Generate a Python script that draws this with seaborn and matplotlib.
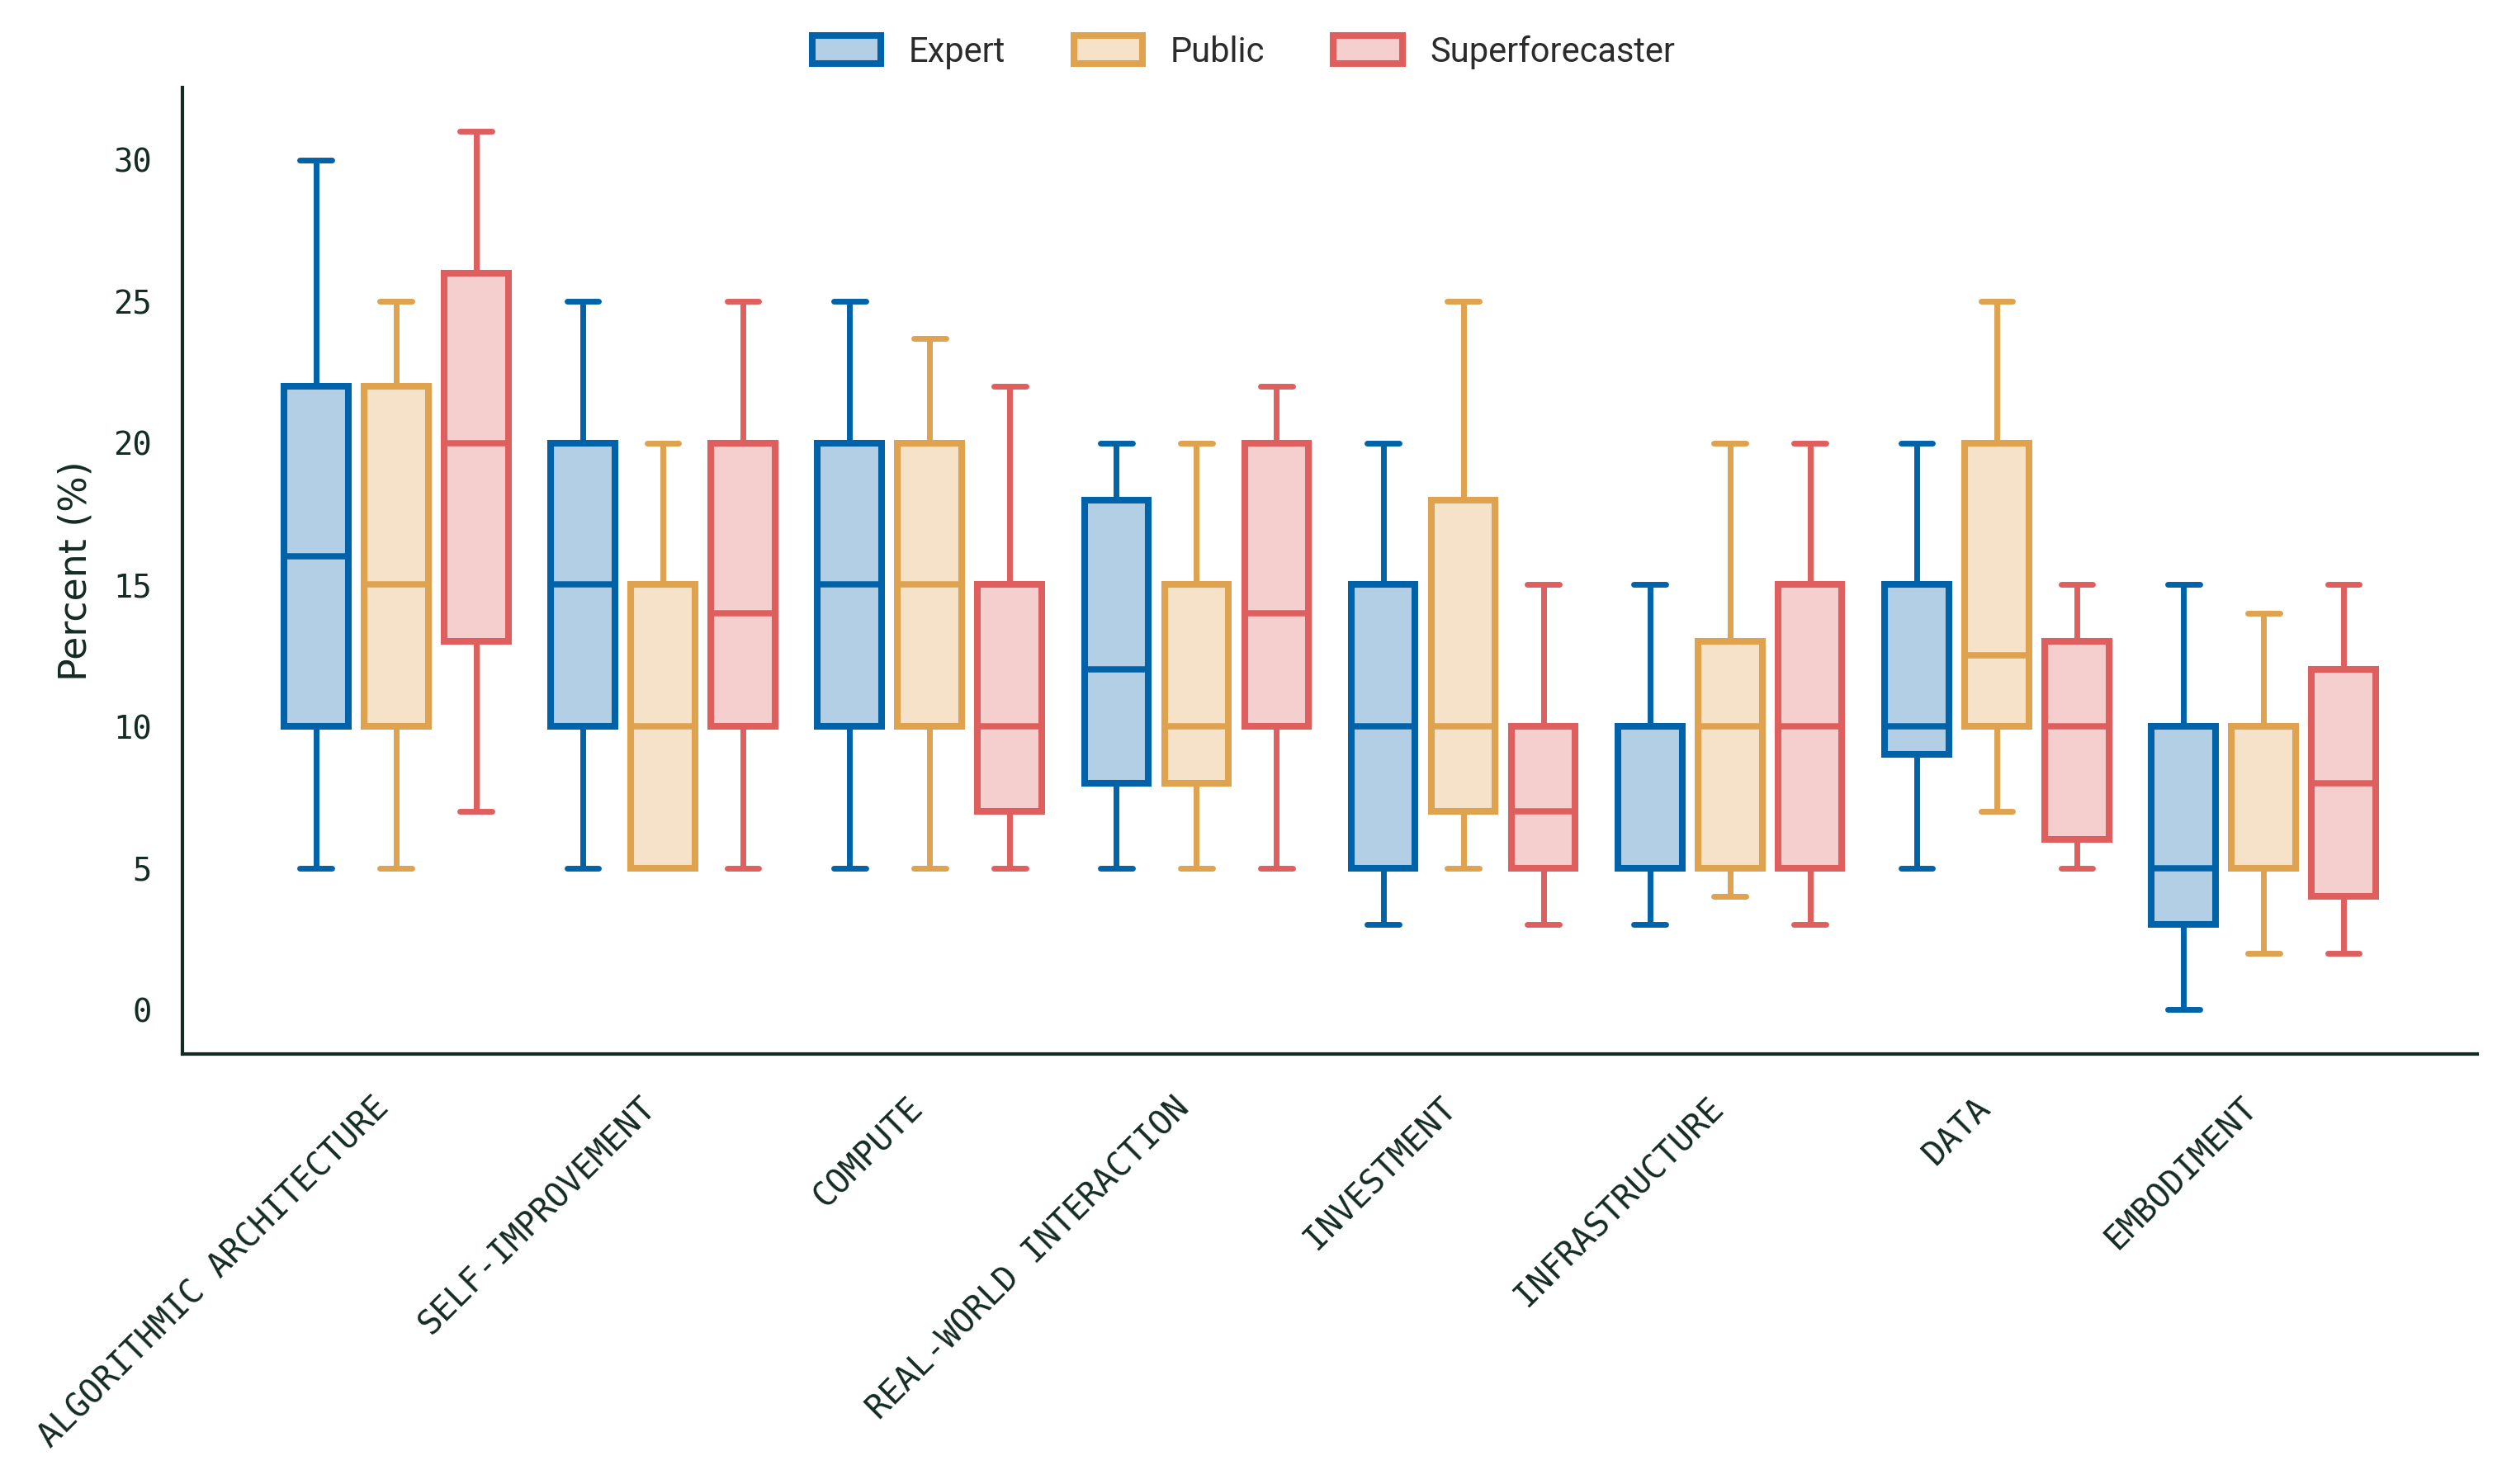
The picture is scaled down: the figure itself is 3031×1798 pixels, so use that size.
import numpy as np
import pandas as pd
import matplotlib
matplotlib.use('Agg')
import matplotlib.pyplot as plt
from matplotlib.patches import Patch
from matplotlib.colors import to_rgb
import seaborn as sns

sns.set_style('white')

factors = ['ALGORITHMIC ARCHITECTURE', 'SELF-IMPROVEMENT', 'COMPUTE',
           'REAL-WORLD INTERACTION', 'INVESTMENT', 'INFRASTRUCTURE',
           'DATA', 'EMBODIMENT']
groups = ['Expert', 'Public', 'Superforecaster']
colors = ['#0063A9', '#DFA24E', '#DF5F5F']

# five-number summaries (low whisker, q1, median, q3, high whisker)
expert_lo  = [5, 5, 5, 5, 3, 3, 5, 0]
expert_q1  = [10, 10, 10, 8, 5, 5, 9, 3]
expert_med = [16, 15, 15, 12, 10, 5, 10, 5]
expert_q3  = [22, 20, 20, 18, 15, 10, 15, 10]
expert_hi  = [30, 25, 25, 20, 20, 15, 20, 15]

public_lo  = [5, 5, 5, 5, 5, 4, 7, 2]
public_q1  = [10, 5, 10, 8, 7, 5, 10, 5]
public_med = [15, 10, 15, 10, 10, 10, 12.5, 5]
public_q3  = [22, 15, 20, 15, 18, 13, 20, 10]
public_hi  = [25, 20, 23.7, 20, 25, 20, 25, 14]

super_lo  = [7, 5, 5, 5, 3, 3, 5, 2]
super_q1  = [13, 10, 7, 10, 5, 5, 6, 4]
super_med = [20, 14, 10, 14, 7, 10, 10, 8]
super_q3  = [26, 20, 15, 20, 10, 15, 13, 12]
super_hi  = [31, 25, 22, 22, 15, 20, 15, 15]

summaries = {
    'Expert': [expert_lo, expert_q1, expert_med, expert_q3, expert_hi],
    'Public': [public_lo, public_q1, public_med, public_q3, public_hi],
    'Superforecaster': [super_lo, super_q1, super_med, super_q3, super_hi],
}

rows = []
for g in groups:
    for i, f in enumerate(factors):
        for s in summaries[g]:
            rows.append({'factor': f, 'group': g, 'pct': s[i]})
df = pd.DataFrame(rows)

ink = '#132B22'
plt.rcParams['font.family'] = ['DejaVu Sans']

fig = plt.figure(figsize=(15.155, 8.99), dpi=200)
ax = fig.add_axes([0.073, 0.29, 0.917, 0.651])

sns.boxplot(data=df, x='factor', y='pct', hue='group', order=factors,
            hue_order=groups, palette=colors, saturation=1, fill=True,
            width=0.9, gap=0.2, whis=(0, 100), showfliers=False,
            linewidth=2.5, legend=False, ax=ax,
            boxprops=dict(linewidth=2.9),
            medianprops=dict(linewidth=2.7),
            capprops=dict(solid_capstyle='round'))

# light fill with a solid outline in the hue colour; lines take the colour of their box
boxes = []
for p in ax.patches:
    c = p.get_facecolor()[:3]
    p.set_edgecolor(c)
    p.set_facecolor((*c, 0.3))
    ext = p.get_path().get_extents()
    boxes.append((ext.x0, ext.x1, c))
for ln in ax.lines:
    xs = np.asarray(ln.get_xdata(), dtype=float)
    if xs.size == 0:
        continue
    xm = xs.mean()
    for x0, x1, c in boxes:
        if x0 - 1e-6 <= xm <= x1 + 1e-6:
            ln.set_color(c)
            break

sns.despine(ax=ax)
for side in ['left', 'bottom']:
    ax.spines[side].set_color(ink)
    ax.spines[side].set_linewidth(1.5)

ax.set_xlabel('')
ax.set_ylabel('Percent (%)', fontsize=16.5, color=ink, labelpad=8)
ax.set_xlim(-0.8, 7.8)
ax.set_yticks([0, 5, 10, 15, 20, 25, 30])
ax.tick_params(axis='both', colors=ink, width=1.5, labelsize=14)
ax.tick_params(axis='x', length=8.5, pad=8)
ax.tick_params(axis='y', length=6.5, pad=7)
ax.set_xticks(range(len(factors)))
ax.set_xticklabels(factors, rotation=45, ha='right',
                   family='DejaVu Sans Mono', fontsize=14.5)
for lab in ax.get_yticklabels():
    lab.set_family('DejaVu Sans Mono')

handles = [Patch(facecolor=(*to_rgb(c), 0.3), edgecolor=c,
                 linewidth=2.9, label=g) for g, c in zip(groups, colors)]
fig.legend(handles=handles, loc='center', bbox_to_anchor=(0.497, 0.965),
           ncol=3, frameon=False, prop={'family': 'Roboto', 'size': 15},
           handlelength=2.0, handleheight=0.85, handletextpad=0.8,
           columnspacing=2.0, labelcolor='#2b2b2b')

fig.savefig('out.png', dpi=200)
